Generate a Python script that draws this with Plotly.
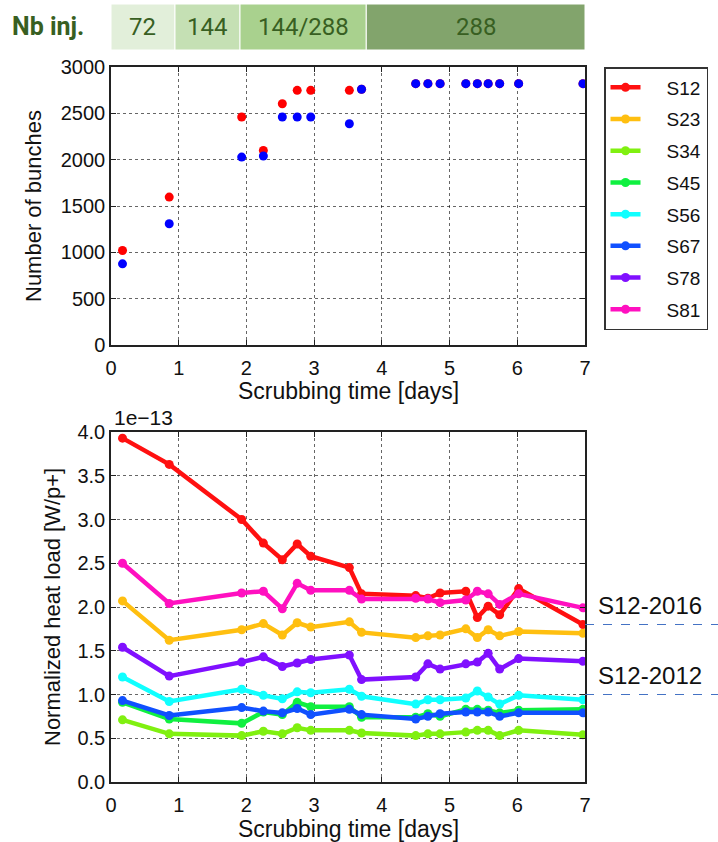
import plotly.graph_objects as go

# ---- data -------------------------------------------------------------
# scrubbing time of each fill [days]
time_days = [0.17, 0.86, 1.93, 2.25, 2.53, 2.75, 2.95, 3.52, 3.70,
             4.50, 4.68, 4.86, 5.24, 5.41, 5.57, 5.74, 6.02, 6.97]

# number of bunches per beam
bunches_b1 = [1020, 1596, 2460, 2100, 2604, 2748, 2748, 2748, 2760,
              2820, 2820, 2820, 2820, 2820, 2820, 2820, 2820, 2820]
bunches_b2 = [876, 1308, 2028, 2040, 2460, 2460, 2460, 2388, 2760,
              2820, 2820, 2820, 2820, 2820, 2820, 2820, 2820, 2820]

# normalized heat load per sector [1e-13 W/p+]
sectors = ["S12", "S23", "S34", "S45", "S56", "S67", "S78", "S81"]
hl_S12 = [3.93, 3.63, 3.00, 2.73, 2.54, 2.72, 2.58, 2.45, 2.15, 2.13, 2.10, 2.16, 2.18, 1.88, 2.01, 1.91, 2.21, 1.80]
hl_S23 = [2.07, 1.62, 1.74, 1.81, 1.68, 1.82, 1.77, 1.83, 1.71, 1.65, 1.67, 1.68, 1.75, 1.65, 1.74, 1.67, 1.72, 1.70]
hl_S34 = [0.71, 0.55, 0.53, 0.58, 0.55, 0.62, 0.59, 0.59, 0.56, 0.53, 0.55, 0.55, 0.57, 0.59, 0.59, 0.53, 0.59, 0.54]
hl_S45 = [0.91, 0.72, 0.67, 0.80, 0.77, 0.91, 0.86, 0.86, 0.74, 0.74, 0.78, 0.75, 0.83, 0.83, 0.82, 0.79, 0.82, 0.83]
hl_S56 = [1.20, 0.92, 1.06, 0.99, 0.95, 1.03, 1.02, 1.06, 0.98, 0.89, 0.94, 0.94, 0.96, 1.04, 0.97, 0.89, 0.99, 0.94]
hl_S67 = [0.93, 0.76, 0.85, 0.81, 0.79, 0.84, 0.77, 0.83, 0.77, 0.72, 0.75, 0.78, 0.80, 0.80, 0.80, 0.75, 0.79, 0.79]
hl_S78 = [1.54, 1.21, 1.37, 1.43, 1.32, 1.36, 1.40, 1.45, 1.17, 1.20, 1.35, 1.29, 1.35, 1.37, 1.47, 1.29, 1.41, 1.38]
hl_S81 = [2.50, 2.04, 2.16, 2.18, 1.98, 2.27, 2.19, 2.19, 2.09, 2.10, 2.09, 2.05, 2.08, 2.18, 2.15, 2.03, 2.15, 1.99]
heat_loads = [hl_S12, hl_S23, hl_S34, hl_S45, hl_S56, hl_S67, hl_S78, hl_S81]

# reference levels of S12 [1e-13 W/p+]
ref_labels = ["S12-2016", "S12-2012"]
ref_levels = [1.80, 1.00]

# injection scheme phases (edges in days)
phase_edges = [0, 0.945, 1.905, 3.77, 7.0]
phase_labels = ["72", "144", "144/288", "288"]

# ---- style ------------------------------------------------------------
W, H = 718, 842
FONT = "Liberation Sans, Arial, sans-serif"
NARROW = "Roboto, Liberation Sans, sans-serif"
sector_colors = ["#ff1010", "#ffbf10", "#80f010", "#10f040",
                 "#10ffff", "#1050ff", "#8010ff", "#ff10c0"]
phase_colors = ["#e2efda", "#c5e0b4", "#a9d18e", "#82a46c"]
DARK_GREEN = "#385f22"
LEGEND_PAD = "\u00a0" * 4   # extra room between legend symbol and its label


def px(xp):
    return xp / W


def py(yp):
    return 1 - yp / H


def label(x, y, text, size, **kw):
    d = dict(x=px(x), y=py(y), xref="paper", yref="paper", text=text,
             showarrow=False, xanchor="center", yanchor="middle",
             font=dict(family=FONT, size=size, color="#111"))
    d.update(kw)
    return d


fig = go.Figure()

# number of bunches
fig.add_trace(go.Scatter(x=time_days, y=bunches_b1, mode="markers",
                         marker=dict(color="#ff0000", size=9),
                         showlegend=False, xaxis="x", yaxis="y"))
fig.add_trace(go.Scatter(x=time_days, y=bunches_b2, mode="markers",
                         marker=dict(color="#0000ff", size=9),
                         showlegend=False, xaxis="x", yaxis="y"))

# heat loads (each sector in its own legend group so the group gap spaces the entries)
for name, vals, col in zip(sectors, heat_loads, sector_colors):
    fig.add_trace(go.Scatter(x=time_days, y=vals, mode="lines+markers",
                             name=LEGEND_PAD + name, legendgroup=name,
                             line=dict(color=col, width=4.5),
                             marker=dict(color=col, size=9),
                             xaxis="x2", yaxis="y2"))

axis_common = dict(
    showline=True, linecolor="#222", linewidth=1.5, mirror="allticks",
    ticks="inside", ticklen=5, tickcolor="#222", tickwidth=1,
    showgrid=True, gridcolor="rgba(0,0,0,0.6)", griddash="dot", gridwidth=1,
    zeroline=False, tickfont=dict(family=FONT, size=20, color="#111"),
    automargin=False,
)
xdom = [px(111), px(585)]

fig.update_layout(
    width=W, height=H,
    margin=dict(l=0, r=0, t=0, b=0),
    paper_bgcolor="white", plot_bgcolor="white",
    font=dict(family=FONT, color="#111"),
    xaxis=dict(domain=xdom, range=[0, 7], tickvals=list(range(8)), anchor="y",
               ticklabelstandoff=4, **axis_common),
    yaxis=dict(domain=[py(345), py(67)], range=[0, 3000], dtick=500, anchor="x", **axis_common),
    xaxis2=dict(domain=xdom, range=[0, 7], tickvals=list(range(8)), anchor="y2",
                ticklabelstandoff=4, **axis_common),
    yaxis2=dict(domain=[py(782), py(432)], range=[0, 4], dtick=0.5, tickformat=".1f",
                anchor="x2", **axis_common),
    legend=dict(x=px(604), y=py(67), xanchor="left", yanchor="top",
                bordercolor="#333", borderwidth=1.5, bgcolor="white",
                font=dict(family=FONT, size=19, color="#111"),
                tracegroupgap=4),
    showlegend=True,
)

shapes = []
annotations = []

# injection scheme banner
for x0, x1, lab, col in zip(phase_edges[:-1], phase_edges[1:], phase_labels, phase_colors):
    shapes.append(dict(type="rect", xref="x", yref="paper", x0=x0, x1=x1,
                       y0=py(50), y1=py(4), fillcolor=col,
                       line=dict(color="white", width=1), layer="above"))
    annotations.append(dict(x=(x0 + x1) / 2, y=py(27), xref="x", yref="paper",
                            text=lab, showarrow=False, xanchor="center", yanchor="middle",
                            font=dict(family=NARROW, size=24, color=DARK_GREEN)))
annotations.append(label(48, 27, "<b>Nb inj.</b>", 25,
                         font=dict(family=NARROW, size=25, color=DARK_GREEN)))

# reference levels to the right of the heat-load panel
for lab, lev in zip(ref_labels, ref_levels):
    shapes.append(dict(type="line", xref="paper", yref="y2", x0=px(585), x1=1,
                       y0=lev, y1=lev, line=dict(color="#4472c4", width=1, dash="dash")))
    annotations.append(dict(x=px(596), y=lev, xref="paper", yref="y2",
                            text=lab, showarrow=False, xanchor="left", yanchor="bottom",
                            yshift=4,
                            font=dict(family=FONT, size=24, color="#111")))

# axis titles
annotations += [
    label(348, 391, "Scrubbing time [days]", 23),
    label(348, 829, "Scrubbing time [days]", 23),
    label(33, 206, "Number of bunches", 22, textangle=-90),
    label(52, 607, "Normalized heat load [W/p+]", 22, textangle=-90),
    label(112, 432, "1e\u221213", 21, xanchor="left", yanchor="bottom", yshift=1),
]

fig.update_layout(shapes=shapes, annotations=annotations)
fig.write_html("out.html")
